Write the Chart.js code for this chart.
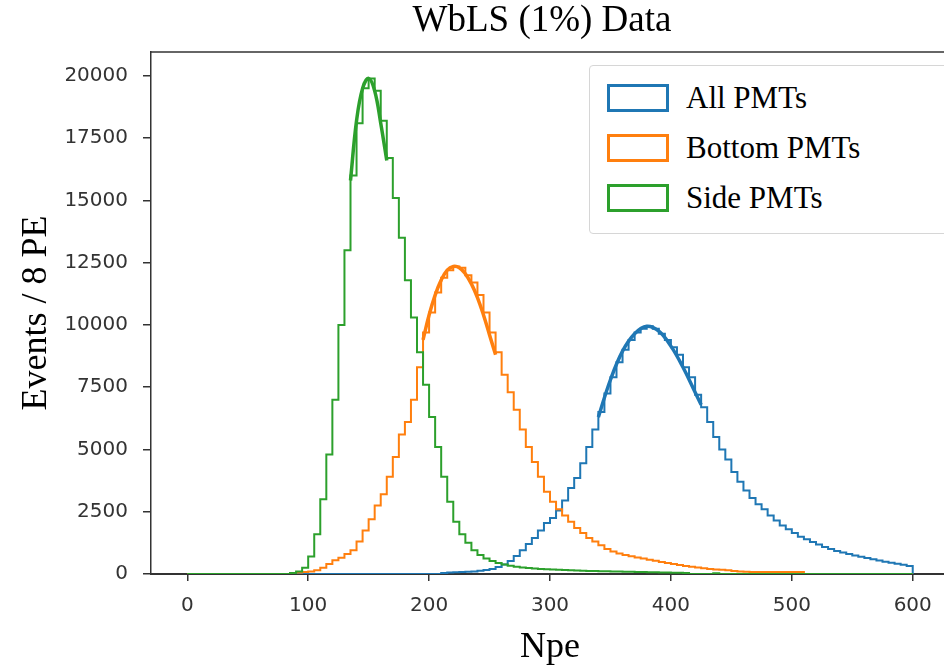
<!DOCTYPE html>
<html>
<head>
<meta charset="utf-8">
<script src="https://cdn.jsdelivr.net/npm/chart.js@4/dist/chart.umd.min.js"></script>
<style>
  html, body { margin: 0; padding: 0; background: #fff; width: 944px; height: 671px; overflow: hidden; }
  #wrap { position: relative; width: 944px; height: 671px; overflow: hidden; }
  #chartCanvas { position: absolute; left: 0; top: 0; }
  #title { position: absolute; left: 292px; top: 0; width: 500px; text-align: center;
    font: 37px "Liberation Serif", "Times New Roman", serif; line-height: 37px; color: #000; }
  #legend { position: absolute; left: 589px; top: 65px; width: 380px; height: 169px;
    border: 1.5px solid #d6d6d6; border-radius: 4px; background: #fff; box-sizing: border-box; }
  .legRow { position: absolute; left: 17px; height: 28px; display: flex; align-items: center; }
  .legBox { width: 56px; height: 22px; border: 3px solid; background: #fff; }
  .legText { margin-left: 17px; font: 31px "Liberation Serif", "Times New Roman", serif; color: #000; white-space: nowrap; }
</style>
</head>
<body>
<div id="wrap">
  <canvas id="chartCanvas" width="952" height="671"></canvas>
  <div id="title">WbLS (1%) Data</div>
  <div id="legend"></div>
</div>
<script>
// histogram bins: 5 PE wide, starting at 0
const BIN_START = 0;
const BIN_WIDTH = 5;

const seriesLabels = ['All PMTs', 'Bottom PMTs', 'Side PMTs'];
const seriesColors = ['#1f77b4', '#ff7f0e', '#2ca02c'];

const allCounts = [
  0, 0, 0, 0, 0, 0, 0, 0, 0, 0,
  0, 0, 0, 0, 0, 0, 0, 0, 0, 0,
  0, 0, 0, 0, 0, 0, 0, 0, 0, 0,
  0, 0, 0, 0, 0, 0, 0, 0, 0, 0,
  0, 0, 40, 60, 70, 80, 90, 100, 130, 160,
  200, 280, 380, 520, 720, 950, 1200, 1450, 1750, 2050,
  2250, 2550, 2950, 3450, 3850, 4450, 5100, 5800, 6500, 7250,
  7900, 8500, 9000, 9400, 9700, 9850, 9950, 9850, 9650, 9400,
  9100, 8800, 8300, 7900, 7200, 6700, 6100, 5500, 5000, 4600,
  4100, 3700, 3350, 3050, 2800, 2600, 2350, 2150, 1950, 1800,
  1650, 1500, 1400, 1280, 1180, 1080, 1000, 920, 860, 800,
  740, 690, 640, 590, 540, 490, 450, 410, 370, 320
];

const bottomCounts = [
  0, 0, 0, 0, 0, 0, 0, 0, 0, 0,
  0, 0, 0, 0, 0, 0, 0, 30, 60, 80,
  100, 150, 250, 400, 550, 650, 800, 950, 1300, 1750,
  2200, 2750, 3200, 3900, 4700, 5600, 6100, 7000, 8300, 9700,
  10500, 11300, 11900, 12200, 12350, 12300, 12000, 11700, 11200, 10500,
  9700, 8900, 8000, 7300, 6600, 5800, 5100, 4500, 3900, 3300,
  2900, 2600, 2350, 2100, 1850, 1650, 1450, 1300, 1150, 1000,
  900, 820, 760, 710, 660, 620, 570, 530, 480, 440,
  400, 360, 320, 290, 260, 230, 200, 180, 170, 150,
  120, 100, 90, 85, 85, 80, 80, 80, 80, 80,
  80, 80, 0, 0, 0, 0, 0, 0, 0, 0,
  0, 0, 0, 0, 0, 0, 0, 0, 0, 0
];

const sideCounts = [
  0, 0, 0, 0, 0, 0, 0, 0, 0, 0,
  0, 0, 0, 0, 0, 0, 0, 40, 100, 250,
  700, 1600, 3000, 4800, 7000, 10000, 13000, 16000, 18100, 19500,
  19900, 19400, 18200, 16700, 15100, 13500, 11800, 10300, 8900, 7600,
  6300, 5100, 3900, 2900, 2100, 1600, 1250, 950, 760, 620,
  520, 440, 380, 330, 290, 260, 240, 220, 200, 190,
  180, 170, 160, 150, 140, 130, 125, 120, 115, 110,
  105, 100, 95, 90, 85, 80, 75, 70, 65, 60,
  55, 50, 45, 0, 0, 0, 0, 30, 0, 0,
  0, 0, 0, 0, 0, 0, 0, 0, 0, 0,
  0, 0, 0, 0, 0, 0, 0, 0, 0, 0,
  0, 0, 0, 0, 0, 0, 0, 0, 0, 0
];

// fitted peak curves drawn over the histograms
const allFitX = [340, 350, 360, 370, 380, 390, 400, 410, 420, 425];
const allFitY = [6300, 7800, 8950, 9650, 9950, 9750, 9150, 8300, 7300, 6800];
const bottomFitX = [195, 200, 205, 210, 215, 220, 225, 230, 235, 240, 245, 250, 255];
const bottomFitY = [9400, 10400, 11200, 11800, 12200, 12350, 12300, 12050, 11650, 11100, 10400, 9600, 8800];
const sideFitX = [135, 140, 145, 150, 155, 160, 165];
const sideFitY = [15800, 18200, 19500, 19900, 19400, 18100, 16600];

const xTicks = [0, 100, 200, 300, 400, 500, 600];
const yTicks = [0, 2500, 5000, 7500, 10000, 12500, 15000, 17500, 20000];

function histPoints(counts) {
  const pts = counts.map((c, i) => ({ x: BIN_START + i * BIN_WIDTH, y: c }));
  pts.push({ x: BIN_START + counts.length * BIN_WIDTH, y: 0 });
  return pts;
}

function fitPoints(xs, ys) {
  return xs.map((x, i) => ({ x, y: ys[i] }));
}

const histSets = [allCounts, bottomCounts, sideCounts].map((counts, i) => ({
  label: seriesLabels[i],
  data: histPoints(counts),
  borderColor: seriesColors[i],
  borderWidth: 2,
  stepped: 'before',
  pointRadius: 0,
  fill: false,
  clip: 0,
  order: 6 - 2 * i,
}));

const fitSets = [[allFitX, allFitY], [bottomFitX, bottomFitY], [sideFitX, sideFitY]].map((f, i) => ({
  label: seriesLabels[i] + ' fit',
  data: fitPoints(f[0], f[1]),
  borderColor: seriesColors[i],
  borderWidth: 3.5,
  tension: 0.4,
  pointRadius: 0,
  fill: false,
  order: 5 - 2 * i,
}));

const topSpine = {
  id: 'topSpine',
  afterDraw(chart) {
    const { ctx, chartArea } = chart;
    ctx.save();
    ctx.strokeStyle = '#333';
    ctx.lineWidth = 1.5;
    ctx.beginPath();
    ctx.moveTo(chartArea.left - 0.75, chartArea.top);
    ctx.lineTo(chartArea.right, chartArea.top);
    ctx.stroke();
    ctx.restore();
  }
};

const tickFont = { family: '"DejaVu Sans", sans-serif', size: 20 };
const labelFont = { family: '"Liberation Serif", "Times New Roman", serif', size: 36 };

new Chart(document.getElementById('chartCanvas').getContext('2d'), {
  type: 'line',
  data: { datasets: [...histSets, ...fitSets] },
  options: {
    responsive: false,
    animation: false,
    devicePixelRatio: 1,
    layout: { padding: { top: 52, right: 3, bottom: 0, left: 0 } },
    plugins: { legend: { display: false }, tooltip: { enabled: false }, title: { display: false } },
    scales: {
      x: {
        type: 'linear',
        min: -30,
        max: 630,
        z: 1,
        afterBuildTicks: s => { s.ticks = xTicks.map(v => ({ value: v })); },
        afterFit: s => { s.height = 97; },
        ticks: { color: '#333', font: tickFont, padding: 13, maxRotation: 0, autoSkip: false },
        grid: { drawOnChartArea: false, drawTicks: true, tickLength: 7, color: '#333', lineWidth: 1.5 },
        border: { display: true, color: '#333', width: 2 },
        title: { display: true, text: 'Npe', color: '#000', font: labelFont, padding: { top: 0, bottom: 2 } },
      },
      y: {
        type: 'linear',
        min: 0,
        max: 20960,
        z: 1,
        afterBuildTicks: s => { s.ticks = yTicks.map(v => ({ value: v })); },
        afterFit: s => { s.width = 151; },
        ticks: { color: '#333', font: tickFont, padding: 15, autoSkip: false, callback: v => String(v) },
        grid: { drawOnChartArea: false, drawTicks: true, tickLength: 8, color: '#333', lineWidth: 1.5 },
        border: { display: true, color: '#333', width: 1.5 },
        title: { display: true, text: 'Events / 8 PE', color: '#000', font: labelFont, padding: { top: 15, bottom: 0 } },
      },
    },
  },
  plugins: [topSpine],
});

// legend box in the upper right, built from the series names and colours
const legend = document.getElementById('legend');
seriesLabels.forEach((name, i) => {
  const row = document.createElement('div');
  row.className = 'legRow';
  row.style.top = (18 + i * 50) + 'px';
  row.innerHTML = `<div class="legBox" style="border-color:${seriesColors[i]}"></div><span class="legText">${name}</span>`;
  legend.appendChild(row);
});
</script>
</body>
</html>
